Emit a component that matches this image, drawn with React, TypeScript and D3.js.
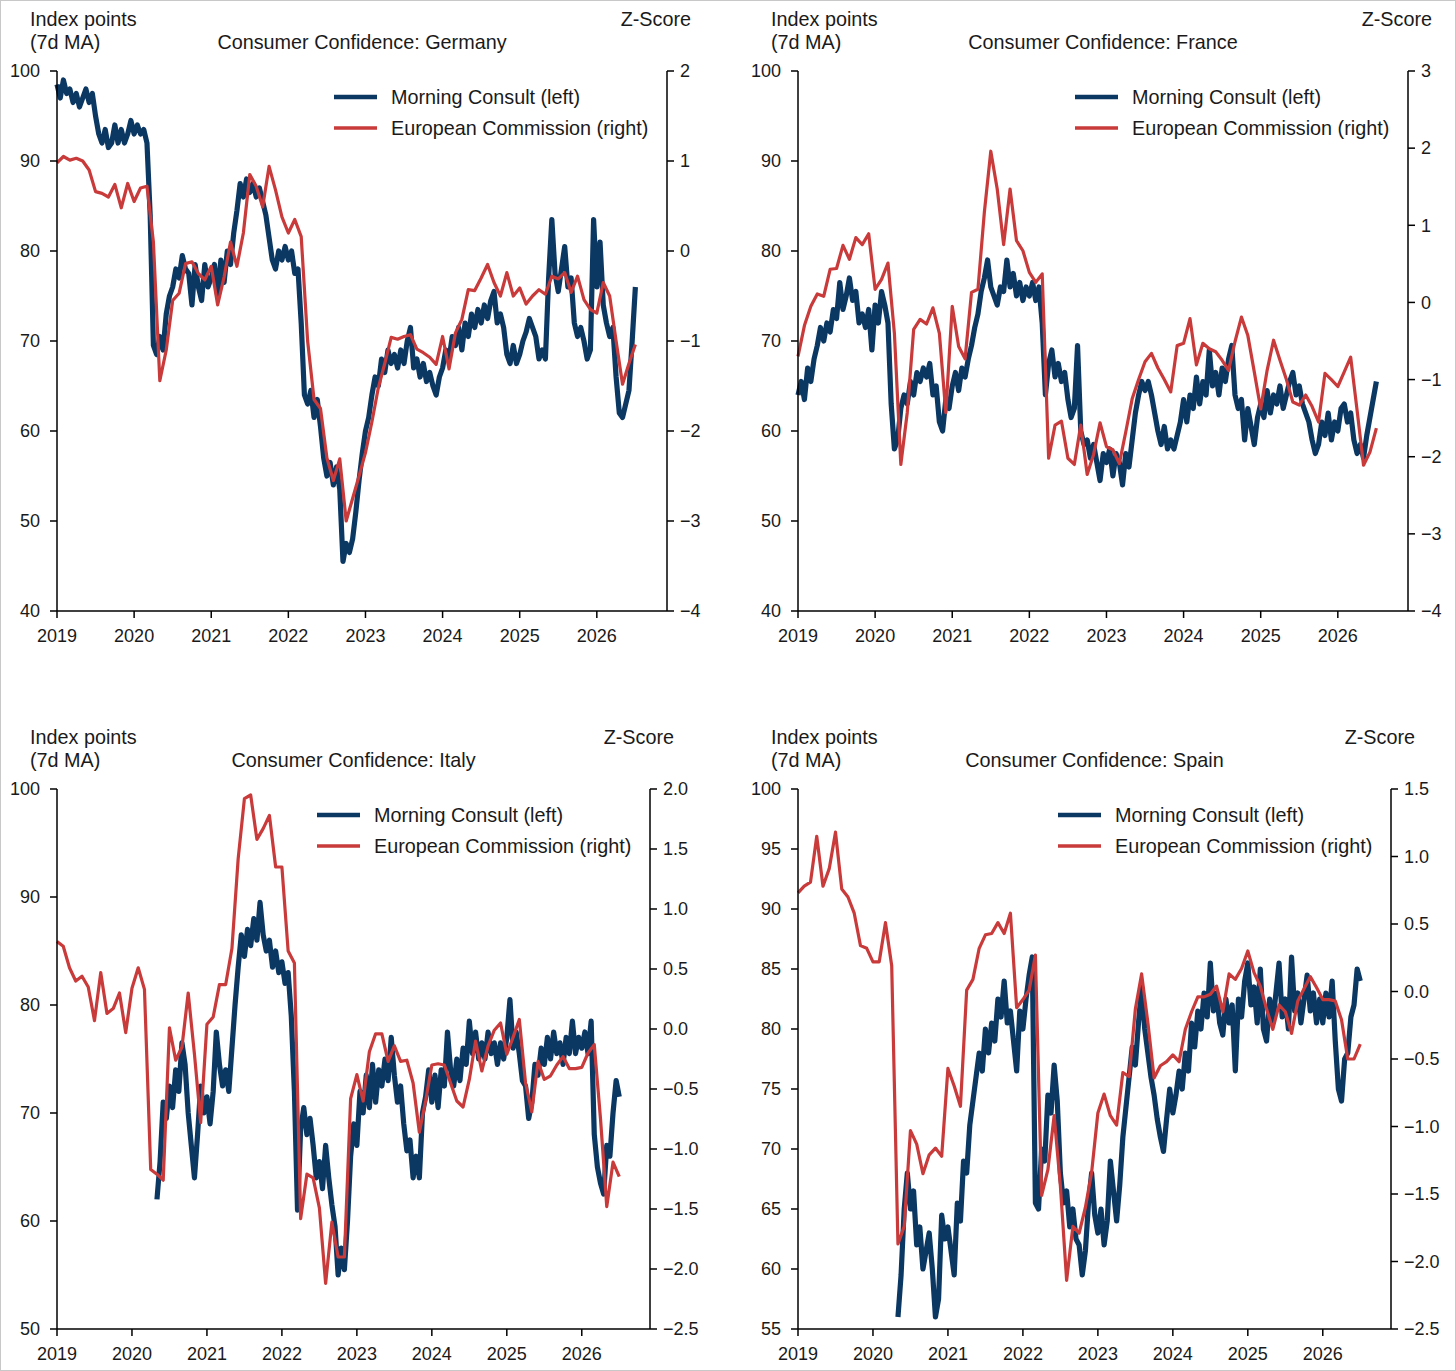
import React from 'react';
import * as d3 from 'd3';

const FONT = '"Liberation Sans", Arial, Helvetica, sans-serif';
const NAVY = '#0b3763';
const RED = '#c93a3b';

const YEAR_TICKS = [2019, 2020, 2021, 2022, 2023, 2024, 2025, 2026];
const X_START = 2019;
const X_END = 2026.91;

// European Commission: monthly, from Jan 2019 (z-score, right axis)
const EC_START = 2019;
const EC_STEP = 1 / 12;
const MC_STEP = 1 / 24;
const MC_START_EARLY = 2019;
const MC_START_LATE = 2020 + 8 / 24;

const SERIES_NAMES = ['Morning Consult (left)', 'European Commission (right)'];

const DE_MC = [
  98.5, 97, 99, 97.5, 98, 96.5, 97.5, 96, 97, 98, 96.5, 97.5, 95, 93, 92, 93.5, 91.5, 92, 94, 92, 93.5, 92, 93, 94.5,
  93, 94, 93, 93.5, 92, 84, 69.5, 68.5, 70.5, 69, 73, 75, 76, 78, 77, 79.5, 78, 77.5, 74, 78.5, 76, 74.5, 78.5, 76,
  77, 78.5, 75, 79, 76.5, 80, 78.5, 82, 84.5, 87.5, 86, 88, 86.5, 87.5, 86, 87, 85.5, 84, 81.5, 79, 78, 80, 79, 80.5,
  79, 80, 77.5, 78, 72, 64, 63, 64.5, 61.5, 63.5, 60.5, 57, 55, 56.5, 54, 56, 53.5, 45.5, 47.5, 46.5, 48, 51, 54.5, 57.5,
  60, 61.5, 64, 66, 65, 68, 66.5, 69, 67.5, 68.5, 67, 69, 67.5, 70, 71.5, 67, 68, 66, 67.5, 65.5, 66.5, 65, 64, 66,
  67, 69, 68, 70.5, 69.5, 71.5, 69, 72, 70.5, 73, 71.5, 73.5, 72, 74, 72.5, 74.5, 75.5, 72, 73, 71.5, 68.5, 67.5, 69.5, 67.5,
  68.5, 70, 71, 72.5, 71.5, 70.5, 68, 69, 68, 77, 83.5, 77.5, 75.5, 78, 80.5, 76, 77, 72, 70.5, 71.5, 70, 68, 69, 83.5,
  76, 81, 74, 72, 70.5, 71.5, 66, 62, 61.5, 63, 64.5, 70, 76,
];
const DE_EC = [
  0.98, 1.05, 1.01, 1.03, 1.0, 0.9, 0.66, 0.64, 0.6, 0.74, 0.48, 0.75,
  0.55, 0.7, 0.72, 0.1, -1.44, -1.1, -0.55, -0.47, -0.14, -0.12, -0.25, -0.32,
  -0.17, -0.6, -0.29, 0.1, -0.17, 0.2, 0.85, 0.72, 0.49, 0.94, 0.68, 0.38,
  0.2, 0.35, 0.16, -1.0, -1.65, -1.75, -2.3, -2.55, -2.31, -3.0, -2.75, -2.5,
  -2.24, -1.9, -1.52, -1.25, -0.96, -0.98, -0.95, -0.93, -1.09, -1.13, -1.18, -1.26,
  -0.95, -1.31, -0.91, -0.76, -0.43, -0.44, -0.3, -0.15, -0.35, -0.5, -0.24, -0.5,
  -0.41, -0.59, -0.5, -0.43, -0.48, -0.28, -0.31, -0.24, -0.46, -0.28, -0.54, -0.65,
  -0.69, -0.35, -0.5, -1.0, -1.48, -1.25, -1.04,
];

const FR_MC = [
  64, 65.5, 63.5, 67, 65.5, 68, 69.5, 71.5, 70, 72, 71, 73.5, 72.5, 76.5, 73.5, 75, 77, 74.5, 75.5, 72, 73, 71.5, 73.5, 69,
  74, 72, 75.5, 74, 72, 63, 58, 59, 62.5, 64, 63, 65.5, 64, 66.5, 65.5, 67, 66, 67.5, 64, 65, 61, 60, 63.5, 62.5,
  65, 66.5, 64.5, 67, 66, 68, 69.5, 71.5, 73, 75.5, 77, 79, 76, 75, 74, 76, 75.5, 79, 76, 77.5, 75, 76.5, 74.5, 76,
  75, 76.5, 74.5, 76, 72, 64, 67.5, 69, 66, 67.5, 65.5, 66.5, 63.5, 61.5, 62.5, 69.5, 60, 58.5, 59, 57, 58.5, 56.5, 54.5, 57.5,
  56.5, 58, 55, 57.5, 56.5, 54, 57.5, 56, 59, 62, 64, 65.5, 64.5, 65.5, 64, 62, 60, 58.5, 60.5, 58, 59, 58, 59.5, 61,
  63.5, 61, 64, 62.5, 66, 63, 65.5, 64, 69, 65, 66.5, 64, 67, 65.5, 68, 69.5, 64, 62.5, 63.5, 59, 62.5, 60.5, 58.5, 61.5,
  63, 61.5, 64.5, 62, 64, 63, 65, 62.5, 64, 65.5, 66.5, 64, 65, 63, 62, 61, 59, 57.5, 58.5, 61, 59.5, 62, 59, 61,
  60, 62.5, 63, 61, 62, 59, 57.5, 58.5, 57, 59.5, 61.5, 63.5, 65.5,
];
const FR_EC = [
  -0.7, -0.3, -0.05, 0.11, 0.08, 0.43, 0.44, 0.74, 0.56, 0.84, 0.75, 0.89,
  0.17, 0.3, 0.51, -0.4, -2.1, -1.43, -0.35, -0.22, -0.28, -0.07, -0.4, -1.43,
  -0.05, -0.57, -0.73, 0.13, 0.17, 1.17, 1.96, 1.47, 0.75, 1.47, 0.8, 0.67,
  0.39, 0.26, 0.37, -2.02, -1.59, -1.54, -2.02, -2.1, -1.59, -2.23, -1.97, -1.56,
  -1.87, -1.91, -2.09, -1.68, -1.25, -1.0, -0.77, -0.66, -0.85, -1.0, -1.16, -0.56,
  -0.53, -0.21, -0.81, -0.53, -0.6, -0.64, -0.75, -0.88, -0.51, -0.19, -0.43, -0.9,
  -1.38, -0.88, -0.49, -0.75, -1.0, -1.29, -1.33, -1.2, -1.35, -1.55, -0.92, -1.0,
  -1.09, -0.9, -0.71, -1.4, -2.11, -1.94, -1.63,
];

const IT_MC = [
  62, 65.5, 71, 69.5, 72.5, 70.5, 74, 72, 76.5, 74.5, 70, 67, 64, 68, 72.5, 70,
  71.5, 69, 72, 77.5, 74.5, 72.5, 74, 72, 76, 80, 83.5, 86.5, 84.5, 87, 85.5, 88, 86, 89.5, 86.5, 85, 86, 83.5, 85, 83,
  84, 82, 83, 79, 72, 61, 68.5, 70.5, 68, 69.5, 67, 64, 65.5, 63, 67, 64, 61.5, 59.5, 55, 57.5, 55.5, 60, 66, 69,
  67, 72, 70, 73.5, 70.5, 74.5, 71, 74, 72.5, 75, 73, 77, 73.5, 71, 72.5, 69, 66.5, 67.5, 64, 66, 64, 70, 71.5, 74,
  71, 73.5, 70.5, 74, 72.5, 77.5, 74, 72.5, 75, 73, 76, 74.5, 78.5, 75.5, 77.5, 75, 76.5, 75, 77.5, 75.5, 76.5, 74.5, 76.5, 75,
  77, 80.5, 76, 77.5, 75.5, 73, 72.5, 69.5, 71, 74.5, 73.5, 76, 74.5, 77, 75, 77.5, 75.5, 76.5, 74.5, 77, 75.5, 78.5, 75.5, 77,
  76, 77.5, 75.5, 78.5, 68, 65, 63.5, 62.5, 67, 66, 70, 73, 71.5,
];
const IT_EC = [
  0.73, 0.69, 0.51, 0.4, 0.44, 0.35, 0.07, 0.47, 0.13, 0.17, 0.3, -0.03,
  0.34, 0.51, 0.33, -1.17, -1.21, -1.26, 0.01, -0.26, -0.15, 0.3, -0.21, -0.78,
  0.04, 0.1, 0.37, 0.37, 0.67, 1.42, 1.92, 1.95, 1.58, 1.67, 1.78, 1.35,
  1.35, 0.65, 0.55, -1.58, -1.21, -1.24, -1.49, -2.12, -1.61, -1.9, -1.9, -0.58,
  -0.38, -0.6, -0.19, -0.04, -0.04, -0.27, -0.14, -0.27, -0.26, -0.45, -0.86, -0.6,
  -0.3, -0.29, -0.3, -0.45, -0.6, -0.65, -0.42, -0.1, -0.35, -0.14, -0.01, 0.05,
  -0.21, -0.07, 0.08, -0.45, -0.69, -0.27, -0.42, -0.39, -0.3, -0.23, -0.33, -0.33,
  -0.32, -0.2, -0.13, -0.75, -1.48, -1.11, -1.23,
];

const ES_MC = [
  56, 59.5, 65, 68, 65, 66.5, 62, 63.5, 60, 61.5, 63, 60, 56, 57.5, 64.5, 62.5,
  63.5, 61.5, 59.5, 65.5, 64, 69, 68, 72, 74, 76, 78, 76.5, 80, 78, 80.5, 79, 82.5, 81, 84, 80.5, 81.5, 79, 76.5, 81.5,
  80, 82.5, 84.5, 86, 65.5, 65, 70, 69, 74.5, 73, 77, 74, 68, 65.5, 66.5, 63.5, 65, 62.5, 62, 59.5, 61.5, 65.5, 68, 64.5,
  63, 65, 62, 64, 69, 66.5, 64, 67, 71, 73.5, 76, 78.5, 77, 80.5, 83.5, 80, 78, 76, 74.5, 72.5, 71, 69.8, 72.5, 75,
  73, 74.5, 76.5, 75, 78, 76.5, 80.5, 78.5, 81.5, 80, 83, 81, 85.5, 81.5, 83, 80.5, 79.5, 82.5, 80.5, 82, 76.5, 82.5, 81, 84,
  85.5, 82, 83.5, 80.5, 85, 80, 79, 82.5, 80.5, 83, 85.5, 81, 82.5, 80, 86, 81.5, 83, 80.5, 82.5, 84.5, 81.5, 83, 80.5, 82.5,
  80.5, 83, 81, 84, 79, 75, 74, 77.5, 78, 81, 82, 85, 84,
];
const ES_EC = [
  0.73, 0.78, 0.81, 1.15, 0.78, 0.91, 1.18, 0.76, 0.7, 0.58, 0.34, 0.32,
  0.22, 0.22, 0.51, 0.19, -1.87, -1.74, -1.03, -1.13, -1.35, -1.21, -1.16, -1.22,
  -0.57, -0.7, -0.85, 0.01, 0.09, 0.32, 0.42, 0.43, 0.51, 0.43, 0.58, -0.12,
  -0.06, 0.01, 0.27, -1.51, -1.32, -0.92, -1.44, -2.14, -1.74, -1.79, -1.6, -1.34,
  -0.9, -0.76, -0.92, -0.99, -0.6, -0.63, -0.13, 0.13, -0.23, -0.64, -0.55, -0.52,
  -0.47, -0.52, -0.28, -0.15, -0.04, -0.04, -0.02, 0.04, -0.15, 0.13, 0.09, 0.17,
  0.3, 0.14, 0.04, -0.13, -0.28, -0.1, -0.15, -0.31, -0.07, 0.02, 0.11, 0.03,
  -0.06, -0.06, -0.07, -0.21, -0.5, -0.5, -0.39,
];

const LEFT_TICKS_40 = [40, 50, 60, 70, 80, 90, 100];
const LEFT_TICKS_IT = [50, 60, 70, 80, 90, 100];
const LEFT_TICKS_ES = [55, 60, 65, 70, 75, 80, 85, 90, 95, 100];
const RIGHT_TICKS_DE = [-4, -3, -2, -1, 0, 1, 2];
const RIGHT_TICKS_FR = [-4, -3, -2, -1, 0, 1, 2, 3];
const RIGHT_TICKS_IT = [-2.5, -2, -1.5, -1, -0.5, 0, 0.5, 1, 1.5, 2];
const RIGHT_TICKS_ES = [-2.5, -2, -1.5, -1, -0.5, 0, 0.5, 1, 1.5];

type PanelCfg = {
  x0: number; x1: number; y0: number; y1: number;
  title: string;
  leftTicks: number[];
  rightTicks: number[];
  rightFormat: string;
  mc: number[]; mcStart: number; ec: number[];
};

const Panel = ({ cfg }: { cfg: PanelCfg }) => {
  const { x0, x1, y0, y1, title, leftTicks, rightTicks, rightFormat, mc, mcStart, ec } = cfg;
  const x = d3.scaleLinear().domain([X_START, X_END]).range([x0, x1]);
  const yL = d3.scaleLinear().domain(d3.extent(leftTicks) as [number, number]).range([y1, y0]);
  const yR = d3.scaleLinear().domain(d3.extent(rightTicks) as [number, number]).range([y1, y0]);
  const fmtR = d3.format(rightFormat);
  const mcLine = d3.line<number>()
    .x((d, i) => x(mcStart + i * MC_STEP))
    .y(d => yL(d));
  const ecLine = d3.line<number>()
    .x((d, i) => x(EC_START + i * EC_STEP))
    .y(d => yR(d));
  const tick = 7;
  const lx = x1 - 333;
  return (
    <g fontFamily={FONT} fontSize={18} fill="#1a1a1a">
      <g fontSize={19.8}>
        <text x={x0 - 27} y={y0 - 45}>Index points</text>
        <text x={x0 - 27} y={y0 - 22}>(7d MA)</text>
        <text x={x1 + 24} y={y0 - 45} textAnchor="end">Z-Score</text>
        <text x={(x0 + x1) / 2} y={y0 - 22} textAnchor="middle">{title}</text>
      </g>

      <path d={mcLine(mc) || ''} fill="none" stroke={NAVY} strokeWidth={5.2} strokeLinejoin="round" />
      <path d={ecLine(ec) || ''} fill="none" stroke={RED} strokeWidth={3.2} strokeLinejoin="round" />

      <g stroke="#000" strokeWidth={1.5}>
        <line x1={x0} x2={x0} y1={y0} y2={y1} />
        <line x1={x1} x2={x1} y1={y0} y2={y1} />
        <line x1={x0} x2={x1} y1={y1} y2={y1} />
        {leftTicks.map(t => (
          <line key={'l' + t} x1={x0 - tick} x2={x0} y1={yL(t)} y2={yL(t)} />
        ))}
        {rightTicks.map(t => (
          <line key={'r' + t} x1={x1} x2={x1 + tick} y1={yR(t)} y2={yR(t)} />
        ))}
        {YEAR_TICKS.map(t => (
          <line key={'x' + t} x1={x(t)} x2={x(t)} y1={y1} y2={y1 + tick} />
        ))}
      </g>
      {leftTicks.map(t => (
        <text key={'lt' + t} x={x0 - 17} y={yL(t)} dy="0.35em" textAnchor="end">{t}</text>
      ))}
      {rightTicks.map(t => (
        <text key={'rt' + t} x={x1 + 13} y={yR(t)} dy="0.35em">{fmtR(t)}</text>
      ))}
      {YEAR_TICKS.map(t => (
        <text key={'xt' + t} x={x(t)} y={y1 + 31} textAnchor="middle">{t}</text>
      ))}

      <g fontSize={19.8}>
        <line x1={lx} x2={lx + 43} y1={y0 + 26} y2={y0 + 26} stroke={NAVY} strokeWidth={4.5} />
        <text x={lx + 57} y={y0 + 26} dy="0.35em">{SERIES_NAMES[0]}</text>
        <line x1={lx} x2={lx + 43} y1={y0 + 57} y2={y0 + 57} stroke={RED} strokeWidth={3.5} />
        <text x={lx + 57} y={y0 + 57} dy="0.35em">{SERIES_NAMES[1]}</text>
      </g>
    </g>
  );
};

const App = () => {
  const panels: PanelCfg[] = [
    { x0: 57, x1: 667, y0: 71, y1: 611, title: 'Consumer Confidence: Germany',
      leftTicks: LEFT_TICKS_40, rightTicks: RIGHT_TICKS_DE, rightFormat: 'd',
      mc: DE_MC, mcStart: MC_START_EARLY, ec: DE_EC },
    { x0: 798, x1: 1408, y0: 71, y1: 611, title: 'Consumer Confidence: France',
      leftTicks: LEFT_TICKS_40, rightTicks: RIGHT_TICKS_FR, rightFormat: 'd',
      mc: FR_MC, mcStart: MC_START_EARLY, ec: FR_EC },
    { x0: 57, x1: 650, y0: 789, y1: 1329, title: 'Consumer Confidence: Italy',
      leftTicks: LEFT_TICKS_IT, rightTicks: RIGHT_TICKS_IT, rightFormat: '.1f',
      mc: IT_MC, mcStart: MC_START_LATE, ec: IT_EC },
    { x0: 798, x1: 1391, y0: 789, y1: 1329, title: 'Consumer Confidence: Spain',
      leftTicks: LEFT_TICKS_ES, rightTicks: RIGHT_TICKS_ES, rightFormat: '.1f',
      mc: ES_MC, mcStart: MC_START_LATE, ec: ES_EC },
  ];
  return (
    <svg width={1456} height={1371} style={{ position: 'absolute', left: 0, top: 0, background: '#fff' }}>
      <rect x={0.5} y={0.5} width={1455} height={1370} fill="#fff" stroke="#c8c8c8" />
      {panels.map(p => <Panel key={p.title} cfg={p} />)}
    </svg>
  );
};

export default App;
